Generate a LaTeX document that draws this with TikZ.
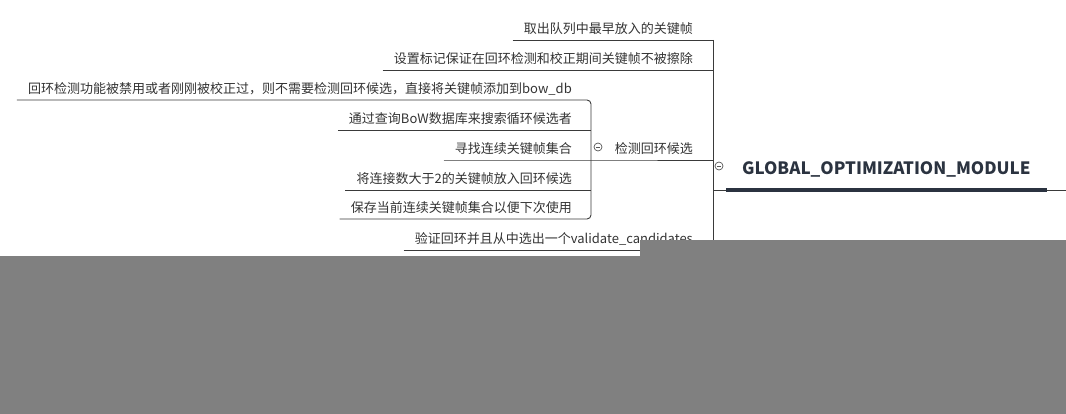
\documentclass[tikz,border=0pt]{standalone}
\usepackage{fontspec}
\setmainfont{Noto Sans CJK SC}
\definecolor{txt}{HTML}{333333}
\definecolor{lnc}{HTML}{3A3A3A}
\definecolor{rootc}{HTML}{2B3340}
\definecolor{tgc}{HTML}{555555}
\definecolor{cover}{HTML}{808080}
\begin{document}
\begin{tikzpicture}[x=1pt,y=-1pt,
 lab/.style={font=\fontsize{13}{15}\selectfont, text=txt, inner xsep=11pt, inner ysep=3pt, text height=11pt, text depth=3pt, anchor=south east},
 rootlab/.style={font=\fontsize{17}{20}\selectfont\bfseries, text=rootc, inner xsep=16pt, inner ysep=12pt, text height=12pt, text depth=3pt, anchor=south west},
 ln/.style={draw=lnc, line width=0.9pt},
 tog/.style={circle, draw=tgc, line width=0.7pt, minimum size=8pt, inner sep=0pt, fill=white,
   path picture={\draw[tgc, line width=0.7pt] ([xshift=-2pt]path picture bounding box.center) -- ([xshift=2pt]path picture bounding box.center);}}
]
\useasboundingbox (0,0) rectangle (1066,414);

% junction coordinates
\coordinate (J) at (713,0);
\coordinate (B) at (591,0);
\coordinate (Jb) at (713,256);
\coordinate (R) at (1066,190);

% root
\node[rootlab] (root) at (726,190) {GLOBAL\_OPTIMIZATION\_MODULE};
\draw[rootc, line width=4pt] (root.south west) -- (root.south east);
\draw[ln] (root.south east) -- (R);
\draw[ln] (J |- root.south) -- (root.south west);

% level 1
\node[lab] (a1) at (704,40) {取出队列中最早放入的关键帧};
\node[lab] (a2) at (704,70) {设置标记保证在回环检测和校正期间关键帧不被擦除};
\node[lab] (a3) at (704,160) {检测回环候选};
\node[lab] (a4) at (704,250) {验证回环并且从中选出一个validate\_candidates};

\draw[ln] (a1.south west) -- (a1.south -| J);
\draw[ln] (a2.south west) -- (a2.south -| J);
\draw[ln] (a4.south west) -- (a4.south -| J);
\draw[ln] (a1.south -| J) -- (Jb);

% level 2
\node[lab] (b1) at (583,100) {回环检测功能被禁用或者刚刚被校正过，则不需要检测回环候选，直接将关键帧添加到bow\_db};
\node[lab] (b2) at (583,130) {通过查询BoW数据库来搜索循环候选者};
\node[lab] (b3) at (583,160) {寻找连续关键帧集合};
\node[lab] (b4) at (583,190) {将连接数大于2的关键帧放入回环候选};
\node[lab] (b5) at (583,219) {保存当前连续关键帧集合以便下次使用};

\draw[ln, rounded corners=4pt] (b1.south west) -- (b1.south -| B) -- (b5.south -| B) -- (b5.south west);
\draw[ln] (b2.south west) -- (b2.south -| B);
\draw[ln] (b4.south west) -- (b4.south -| B);
\draw[ln] (b3.south west) -- (a3.south west) -- (a3.south -| J);

% toggles
\node[tog] (t3) at (598,147) {};
\node[tog] (tr) at (719,166) {};

% cover
\fill[cover] (0,256) rectangle (1066,414);
\fill[cover] (640,240) rectangle (1066,256);
\end{tikzpicture}
\end{document}
